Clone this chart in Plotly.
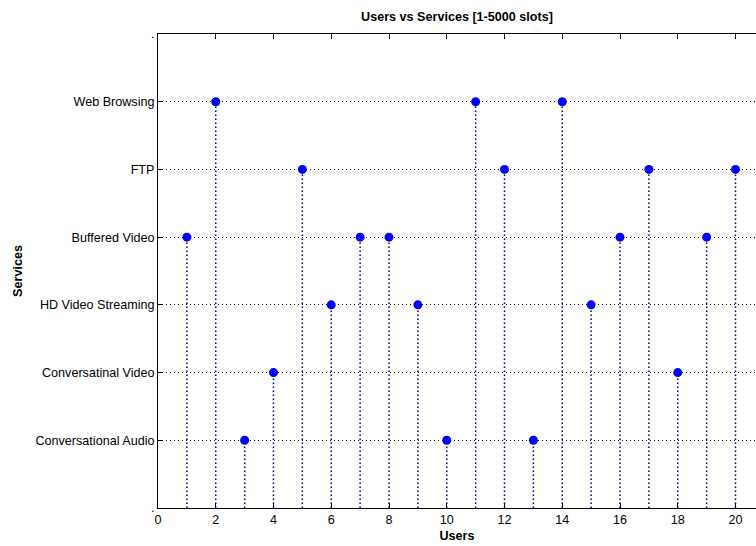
import plotly.graph_objects as go

users = list(range(1, 21))
service_index = [4, 6, 1, 2, 5, 3, 4, 4, 3, 1, 6, 5, 1, 6, 3, 4, 5, 2, 4, 5]
service_labels = [".", "Conversational Audio", "Conversatinal Video", "HD Video Streaming",
                  "Buffered Video", "FTP", "Web Browsing", "."]
y_ticks = list(range(0, 8))
x_ticks = list(range(0, 21, 2))

stem_x, stem_y = [], []
for u, s in zip(users, service_index):
    stem_x += [u, u, None]
    stem_y += [0, s, None]

font = dict(family="Liberation Sans, Arial, sans-serif", size=12.6, color="black")

fig = go.Figure()
fig.add_trace(go.Scatter(x=stem_x, y=stem_y, mode="lines",
                         line=dict(color="#00008B", width=1.5, dash="1.5px,2.5px"),
                         hoverinfo="skip", showlegend=False))
fig.add_trace(go.Scatter(x=users, y=service_index, mode="markers",
                         marker=dict(color="#0000FF", size=9, line=dict(width=0)),
                         showlegend=False))
fig.add_trace(go.Scatter(x=[None], y=[None], xaxis="x2", showlegend=False))

xr = [0, (756 - 158) / 28.875]
fig.update_layout(
    width=756, height=546,
    margin=dict(l=158, r=0, t=34, b=38),
    paper_bgcolor="white", plot_bgcolor="white",
    font=font,
    title=dict(text="<b>Users vs Services [1-5000 slots]</b>", x=457 / 756, xanchor="center",
               y=1 - 17 / 546, yanchor="middle", font=dict(size=12.6)),
    xaxis=dict(range=xr, tickvals=x_ticks, ticks="inside", ticklen=5, tickcolor="black",
               showline=True, linecolor="black", linewidth=1, showgrid=False, zeroline=False,
               title=dict(text="<b>Users</b>", standoff=5, font=dict(size=12.6)),
               tickfont=dict(size=12.6)),
    xaxis2=dict(range=xr, tickvals=x_ticks, ticks="inside", ticklen=5, tickcolor="black",
                overlaying="x", side="top", showticklabels=False, showline=True,
                linecolor="black", linewidth=1, showgrid=False, zeroline=False),
    yaxis=dict(range=[0, 7], tickvals=y_ticks, ticktext=service_labels, ticks="inside",
               ticklen=5, tickcolor="black", showline=True, linecolor="black", linewidth=1,
               showgrid=True, gridcolor="black", griddash="1px,3px", gridwidth=1, zeroline=False,
               title=dict(text="<b>Services</b>", standoff=10, font=dict(size=12.6)),
               tickfont=dict(size=12.6)),
)
fig.write_html("out.html")
